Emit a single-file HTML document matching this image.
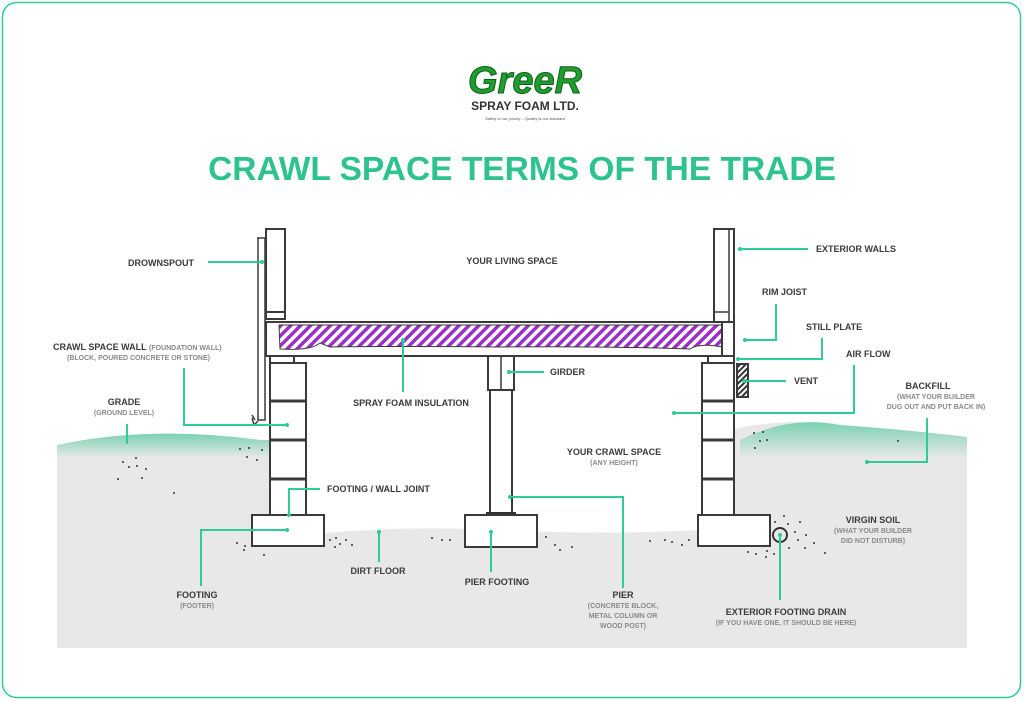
<!DOCTYPE html>
<html><head><meta charset="utf-8"><style>
html,body{margin:0;padding:0;background:#fff}
svg{display:block}
text{font-family:"Liberation Sans",sans-serif;font-weight:bold}
.l{font-size:9px;fill:#3a3a3a}
.s{font-size:7px;fill:#8a8a8a}
.ln{stroke:#2fcb9a;stroke-width:2;fill:none}
.d{fill:#2fcb9a}
.w{fill:#fff;stroke:#3a3a3a;stroke-width:2}
.p{fill:#333}
</style></head><body>
<svg width="1024" height="701" viewBox="0 0 1024 701" xmlns="http://www.w3.org/2000/svg">
<defs>
<linearGradient id="g" x1="0" y1="0" x2="0" y2="1"><stop offset="0" stop-color="#6fcfab"/><stop offset="1" stop-color="#e8e8e8"/></linearGradient>
<pattern id="h" width="7" height="7" patternUnits="userSpaceOnUse" patternTransform="rotate(45)"><rect width="7" height="7" fill="#fff"/><rect width="3.5" height="7" fill="#9b30c4"/></pattern>
<pattern id="hv" width="4" height="4" patternUnits="userSpaceOnUse" patternTransform="rotate(45)"><rect width="4" height="4" fill="#fff"/><rect width="2" height="4" fill="#333"/></pattern>
</defs>
<rect x="2.5" y="2.5" width="1018" height="695" rx="14" fill="#fff" stroke="#2fcb9a" stroke-width="1.5"/>
<!-- logo -->
<text x="525" y="93" text-anchor="middle" style="font-size:38px;font-style:italic;fill:#1f9d2e;stroke:#0d5e18;stroke-width:1">GreeR</text>
<text x="525" y="110" text-anchor="middle" style="font-size:12px;fill:#333">SPRAY FOAM LTD.</text>
<text x="525" y="120" text-anchor="middle" style="font-size:4px;font-weight:normal;fill:#555">Safety is our priority – Quality is our standard</text>
<text x="522" y="180" text-anchor="middle" style="font-size:33.5px;fill:#2ec28e">CRAWL SPACE TERMS OF THE TRADE</text>
<!-- ground -->
<path d="M57 445 Q150 425 260 440 Q480 450 700 440 Q760 415 840 425 Q910 430 967 437 L967 648 L57 648 Z" fill="#e8e8e8"/>
<path d="M57 445 Q150 425 260 440 L270 440 L270 458 L57 458 Z" fill="url(#g)" opacity="0.9"/>
<path d="M740 440 Q790 415 840 425 Q910 430 967 437 L967 458 L740 458 Z" fill="url(#g)" opacity="0.9"/>
<path d="M305 362 L702 362 L702 530 Q600 535 500 530 Q400 525 305 535 Z" fill="#fff"/>
<!-- left structure -->
<rect class="w" x="266" y="229" width="19" height="90"/>
<line x1="266" y1="312" x2="285" y2="312" stroke="#3a3a3a" stroke-width="2"/>
<path d="M257 238 L265 238 L265 420 L258 420 L258 238" fill="none" stroke="#3a3a3a" stroke-width="1.5"/>
<path d="M255 420 L252 415 M258 421 L254 425 L252 418" stroke="#3a3a3a" stroke-width="1.5" fill="none"/>
<rect class="w" x="266" y="322" width="14" height="34"/>
<rect class="w" x="270" y="356" width="24" height="7"/>
<rect class="w" x="270" y="363" width="36" height="152"/>
<line x1="270" y1="401" x2="306" y2="401" stroke="#3a3a3a" stroke-width="3"/>
<line x1="270" y1="440" x2="306" y2="440" stroke="#3a3a3a" stroke-width="3"/>
<line x1="270" y1="479" x2="306" y2="479" stroke="#3a3a3a" stroke-width="3"/>
<rect class="w" x="252" y="515" width="72" height="31"/>
<!-- floor -->
<rect class="w" x="266" y="322" width="468" height="34"/>
<path d="M279 325 L727 325 L728 348 Q700 342 690 349 Q600 346 500 347 Q400 346 330 347 L320 343 Q310 351 280 349 Z" fill="url(#h)" stroke="#3a3a3a" stroke-width="1"/>
<!-- pier -->
<rect class="w" x="488" y="356" width="26" height="34"/>
<line x1="501" y1="356" x2="501" y2="390" stroke="#3a3a3a" stroke-width="1.5"/>
<rect class="w" x="490" y="390" width="22" height="124"/>
<rect x="486" y="512" width="30" height="3" fill="#333"/>
<rect class="w" x="465" y="515" width="72" height="32"/>
<!-- right structure -->
<rect class="w" x="714" y="229" width="20" height="93"/>
<line x1="729" y1="229" x2="729" y2="322" stroke="#3a3a3a" stroke-width="1.5"/>
<line x1="714" y1="312" x2="729" y2="312" stroke="#3a3a3a" stroke-width="1.5"/>
<rect class="w" x="722" y="322" width="12" height="34"/>
<rect class="w" x="708" y="356" width="26" height="7"/>
<rect class="w" x="702" y="363" width="32" height="152"/>
<line x1="702" y1="401" x2="734" y2="401" stroke="#3a3a3a" stroke-width="3"/>
<line x1="702" y1="440" x2="734" y2="440" stroke="#3a3a3a" stroke-width="3"/>
<line x1="702" y1="479" x2="734" y2="479" stroke="#3a3a3a" stroke-width="3"/>
<rect x="737" y="364" width="11" height="33" fill="url(#hv)" stroke="#3a3a3a" stroke-width="2"/>
<rect class="w" x="698" y="515" width="72" height="31"/>
<circle cx="780" cy="535" r="7" fill="none" stroke="#333" stroke-width="2"/>
<!-- dots -->
<g class="p">
<circle cx="123" cy="462" r="1"/><circle cx="136" cy="458" r="1"/><circle cx="129" cy="467" r="1"/><circle cx="137" cy="466" r="1"/><circle cx="146" cy="469" r="1"/><circle cx="118" cy="479" r="1"/><circle cx="142" cy="478" r="1"/><circle cx="174" cy="493" r="1"/>
<circle cx="240" cy="449" r="1"/><circle cx="249" cy="448" r="1"/><circle cx="262" cy="450" r="1"/><circle cx="247" cy="457" r="1"/><circle cx="257" cy="460" r="1"/>
<circle cx="237" cy="543" r="1"/><circle cx="245" cy="546" r="1"/><circle cx="244" cy="550" r="1"/><circle cx="264" cy="555" r="1"/>
<circle cx="330" cy="540" r="1"/><circle cx="336" cy="538" r="1"/><circle cx="340" cy="544" r="1"/><circle cx="346" cy="540" r="1"/><circle cx="352" cy="545" r="1"/><circle cx="335" cy="547" r="1"/>
<circle cx="432" cy="538" r="1"/><circle cx="442" cy="540" r="1"/><circle cx="450" cy="540" r="1"/>
<circle cx="546" cy="537" r="1"/><circle cx="555" cy="545" r="1"/><circle cx="560" cy="550" r="1"/><circle cx="572" cy="547" r="1"/>
<circle cx="623" cy="536" r="1"/><circle cx="650" cy="541" r="1"/><circle cx="665" cy="540" r="1"/><circle cx="672" cy="542" r="1"/><circle cx="682" cy="545" r="1"/><circle cx="689" cy="540" r="1"/>
<circle cx="754" cy="433" r="1"/><circle cx="763" cy="432" r="1"/><circle cx="760" cy="441" r="1"/><circle cx="767" cy="440" r="1"/><circle cx="755" cy="448" r="1"/><circle cx="898" cy="441" r="1"/>
<circle cx="784" cy="516" r="1"/><circle cx="775" cy="522" r="1"/><circle cx="788" cy="524" r="1"/><circle cx="800" cy="522" r="1"/><circle cx="795" cy="532" r="1"/><circle cx="806" cy="535" r="1"/><circle cx="798" cy="540" r="1"/><circle cx="814" cy="543" r="1"/><circle cx="789" cy="548" r="1"/><circle cx="805" cy="548" r="1"/><circle cx="825" cy="553" r="1"/><circle cx="748" cy="552" r="1"/><circle cx="756" cy="554" r="1"/><circle cx="767" cy="551" r="1"/><circle cx="774" cy="554" r="1"/><circle cx="766" cy="557" r="1"/>
</g>
<!-- connectors -->
<g class="ln">
<path d="M208 262 L262 262"/>
<path d="M184 368 L184 425 L287 425"/>
<path d="M127 424 L127 444"/>
<path d="M403 340 L403 392"/>
<path d="M509 372 L544 372"/>
<path d="M320 489 L289 489 L289 515"/>
<path d="M287 530 L201 530 L201 586"/>
<path d="M379 532 L379 562"/>
<path d="M491 532 L491 572"/>
<path d="M510 497 L623 497 L623 588"/>
<path d="M740 249 L808 249"/>
<path d="M745 340 L776 340 L776 304"/>
<path d="M738 359 L822 359 L822 338"/>
<path d="M744 381 L786 381"/>
<path d="M674 413 L854 413 L854 365"/>
<path d="M867 462 L927 462 L927 418"/>
<path d="M780 535 L780 600"/>
</g>
<g class="d">
<circle cx="262" cy="262" r="2"/><circle cx="287" cy="425" r="2"/><circle cx="403" cy="340" r="2"/><circle cx="509" cy="372" r="2"/><circle cx="289" cy="515" r="2"/><circle cx="287" cy="530" r="2"/><circle cx="379" cy="532" r="2"/><circle cx="491" cy="532" r="2"/><circle cx="510" cy="497" r="2"/><circle cx="740" cy="249" r="2"/><circle cx="745" cy="340" r="2"/><circle cx="738" cy="359" r="2"/><circle cx="744" cy="381" r="2"/><circle cx="674" cy="413" r="2"/><circle cx="867" cy="462" r="2"/><circle cx="780" cy="535" r="2"/>
</g>
<!-- labels -->
<text class="l" x="128" y="266">DROWNSPOUT</text>
<text class="l" x="512" y="264" text-anchor="middle">YOUR LIVING SPACE</text>
<text class="l" x="53" y="350">CRAWL SPACE WALL <tspan class="s">(FOUNDATION WALL)</tspan></text>
<text class="s" x="67" y="360">(BLOCK, POURED CONCRETE OR STONE)</text>
<text class="l" x="124" y="405" text-anchor="middle">GRADE</text>
<text class="s" x="124" y="415" text-anchor="middle">(GROUND LEVEL)</text>
<text class="l" x="411" y="406" text-anchor="middle">SPRAY FOAM INSULATION</text>
<text class="l" x="550" y="375">GIRDER</text>
<text class="l" x="614" y="455" text-anchor="middle">YOUR CRAWL SPACE</text>
<text class="s" x="614" y="465" text-anchor="middle">(ANY HEIGHT)</text>
<text class="l" x="327" y="492">FOOTING / WALL JOINT</text>
<text class="l" x="197" y="598" text-anchor="middle">FOOTING</text>
<text class="s" x="197" y="608" text-anchor="middle">(FOOTER)</text>
<text class="l" x="378" y="574" text-anchor="middle">DIRT FLOOR</text>
<text class="l" x="497" y="585" text-anchor="middle">PIER FOOTING</text>
<text class="l" x="623" y="598" text-anchor="middle">PIER</text>
<text class="s" x="623" y="608" text-anchor="middle">(CONCRETE BLOCK,</text>
<text class="s" x="623" y="618" text-anchor="middle">METAL COLUMN OR</text>
<text class="s" x="623" y="628" text-anchor="middle">WOOD POST)</text>
<text class="l" x="816" y="252">EXTERIOR WALLS</text>
<text class="l" x="762" y="295">RIM JOIST</text>
<text class="l" x="806" y="330">STILL PLATE</text>
<text class="l" x="846" y="357">AIR FLOW</text>
<text class="l" x="794" y="384">VENT</text>
<text class="l" x="928" y="389" text-anchor="middle">BACKFILL</text>
<text class="s" x="936" y="399" text-anchor="middle">(WHAT YOUR BUILDER</text>
<text class="s" x="936" y="409" text-anchor="middle">DUG OUT AND PUT BACK IN)</text>
<text class="l" x="873" y="523" text-anchor="middle">VIRGIN SOIL</text>
<text class="s" x="873" y="533" text-anchor="middle">(WHAT YOUR BUILDER</text>
<text class="s" x="873" y="543" text-anchor="middle">DID NOT DISTURB)</text>
<text class="l" x="786" y="615" text-anchor="middle">EXTERIOR FOOTING DRAIN</text>
<text class="s" x="786" y="625" text-anchor="middle">(IF YOU HAVE ONE, IT SHOULD BE HERE)</text>
</svg>
</body></html>
